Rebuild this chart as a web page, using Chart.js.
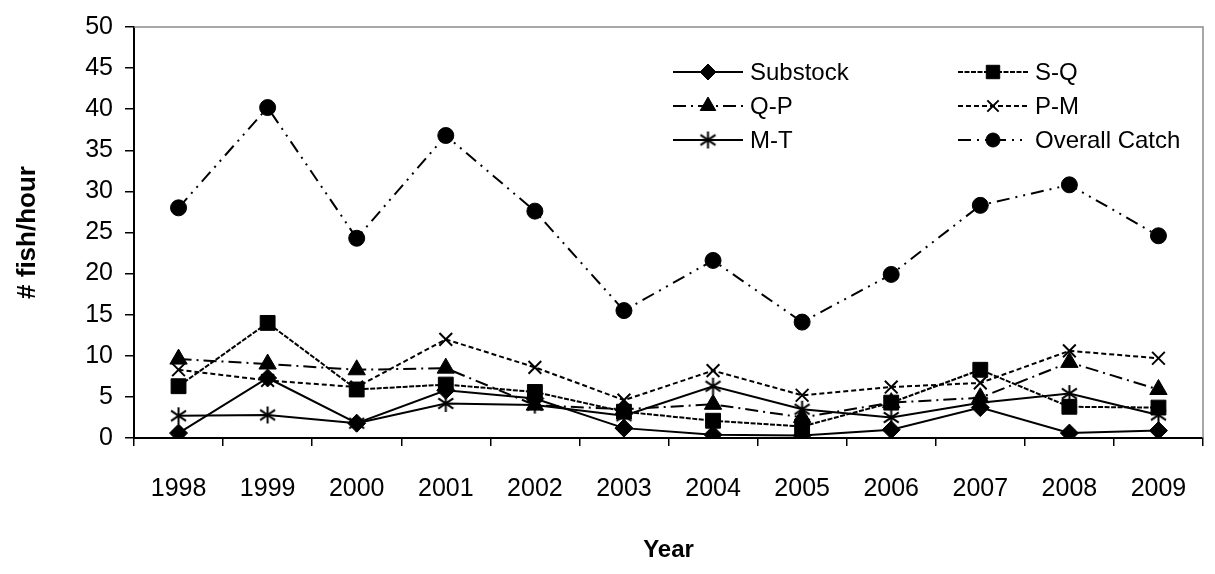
<!DOCTYPE html>
<html>
<head>
<meta charset="utf-8">
<script src="https://cdn.jsdelivr.net/npm/chart.js@4.4.1/dist/chart.umd.min.js"></script>
<style>
  body { margin: 0; background: #fff; }
</style>
</head>
<body>
<canvas id="myChart" width="1215" height="574"></canvas>
<script>
const years = ["1998", "1999", "2000", "2001", "2002", "2003", "2004", "2005", "2006", "2007", "2008", "2009"];
const substock = [0.6, 7.3, 1.8, 5.8, 4.8, 1.2, 0.4, 0.3, 1.0, 3.7, 0.6, 0.9];
const sq = [6.3, 14.0, 5.9, 6.5, 5.6, 3.2, 2.1, 1.4, 4.3, 8.3, 3.8, 3.7];
const qp = [9.6, 9.0, 8.3, 8.5, 4.0, 3.5, 4.1, 2.5, 4.3, 4.9, 9.2, 5.9];
const pm = [8.3, 7.0, 6.2, 12.0, 8.6, 4.6, 8.2, 5.2, 6.2, 6.7, 10.6, 9.7];
const mt = [2.7, 2.8, 1.8, 4.2, 4.0, 2.7, 6.3, 3.5, 2.5, 4.3, 5.4, 2.8];
const overall = [28.0, 40.2, 24.3, 36.8, 27.6, 15.5, 21.6, 14.1, 19.9, 28.3, 30.8, 24.6];

const FONT = "Arial, 'Liberation Sans', sans-serif";

// six-ray asterisk marker for M-T
function asterisk(size) {
  const c = document.createElement("canvas");
  c.width = size;
  c.height = size;
  const g = c.getContext("2d");
  const m = size / 2;
  g.strokeStyle = "#000";
  g.lineWidth = 2;
  g.beginPath();
  g.moveTo(m, 1);
  g.lineTo(m, size - 1);
  g.moveTo(2, m - size * 0.27);
  g.lineTo(size - 2, m + size * 0.27);
  g.moveTo(2, m + size * 0.27);
  g.lineTo(size - 2, m - size * 0.27);
  g.stroke();
  return c;
}

// plot frame: grey top/right, axes drawn by scales
const frame = {
  id: "frame",
  beforeDatasetsDraw(chart) {
    const a = chart.chartArea;
    const ctx = chart.ctx;
    ctx.save();
    ctx.strokeStyle = "#8c8c8c";
    ctx.lineWidth = 1.5;
    ctx.beginPath();
    ctx.moveTo(a.left, a.top);
    ctx.lineTo(a.right, a.top);
    ctx.lineTo(a.right, a.bottom);
    ctx.stroke();
    ctx.restore();
  }
};

// two-column legend inside the plot
const boxLegend = {
  id: "boxLegend",
  afterDatasetsDraw(chart) {
    const ctx = chart.ctx;
    const cols = [673, 958];
    const rows = [72, 106, 140];
    chart.data.datasets.forEach((ds, i) => {
      const x = cols[i % 2];
      const y = rows[Math.floor(i / 2)];
      ctx.save();
      ctx.strokeStyle = "#000";
      ctx.fillStyle = "#000";
      ctx.lineWidth = ds.borderWidth;
      ctx.setLineDash(ds.borderDash || []);
      ctx.beginPath();
      ctx.moveTo(x, y);
      ctx.lineTo(x + 70, y);
      ctx.stroke();
      ctx.setLineDash([]);
      ctx.lineWidth = ds.pointBorderWidth;
      Chart.helpers.drawPoint(ctx, {
        pointStyle: ds.pointStyle,
        radius: ds.pointRadius - 1,
        borderWidth: ds.pointBorderWidth,
        rotation: 0
      }, x + 35, y);
      ctx.font = "24px " + FONT;
      ctx.textBaseline = "middle";
      ctx.fillText(ds.label, x + 77, y + 1);
      ctx.restore();
    });
  }
};

function series(label, data, style, radius, dash, width, pbw) {
  return {
    label: label,
    data: data,
    borderColor: "#000",
    backgroundColor: "#000",
    borderWidth: width,
    borderDash: dash,
    pointStyle: style,
    pointRadius: radius,
    pointBackgroundColor: "#000",
    pointBorderColor: "#000",
    pointBorderWidth: pbw,
    tension: 0,
    fill: false
  };
}

const ctx = document.getElementById("myChart");
const myLineChart = new Chart(ctx, {
  type: "line",
  data: {
    labels: years,
    datasets: [
      series("Substock", substock, "rectRot", 9, [], 2, 1),
      series("S-Q", sq, "rect", 10.5, [5, 1.5], 2, 1),
      series("Q-P", qp, "triangle", 10, [13, 5, 2, 5], 2, 1),
      series("P-M", pm, "crossRot", 9, [5, 3], 2, 2),
      series("M-T", mt, asterisk(19), 10, [], 2, 2),
      series("Overall Catch", overall, "circle", 8, [13, 6, 2, 6, 2, 6], 2, 1)
    ]
  },
  options: {
    responsive: false,
    animation: false,
    layout: { padding: { top: 16, right: 2, left: 0, bottom: 0 } },
    plugins: {
      legend: { display: false },
      tooltip: { enabled: false }
    },
    scales: {
      x: {
        offset: true,
        border: { color: "#000", width: 2 },
        grid: { offset: true, drawOnChartArea: false, color: "#000", lineWidth: 1.5, tickLength: 8 },
        ticks: { color: "#000", font: { family: FONT, size: 25 }, padding: 28, maxRotation: 0 },
        title: { display: true, text: "Year", color: "#000", font: { family: FONT, size: 24, weight: "bold" }, padding: { top: 0, bottom: 9 } },
        afterFit(scale) { scale.height = 136; }
      },
      y: {
        min: 0,
        max: 50,
        border: { color: "#000", width: 2 },
        grid: { drawOnChartArea: false, color: "#000", lineWidth: 1.5, tickLength: 9 },
        ticks: { stepSize: 5, color: "#000", font: { family: FONT, size: 25 }, padding: 12 },
        title: { display: true, text: "# fish/hour", color: "#000", font: { family: FONT, size: 26, weight: "bold" }, padding: { top: 12, bottom: 0 } },
        afterFit(scale) { scale.width = 134; }
      }
    }
  },
  plugins: [frame, boxLegend]
});
</script>
</body>
</html>
